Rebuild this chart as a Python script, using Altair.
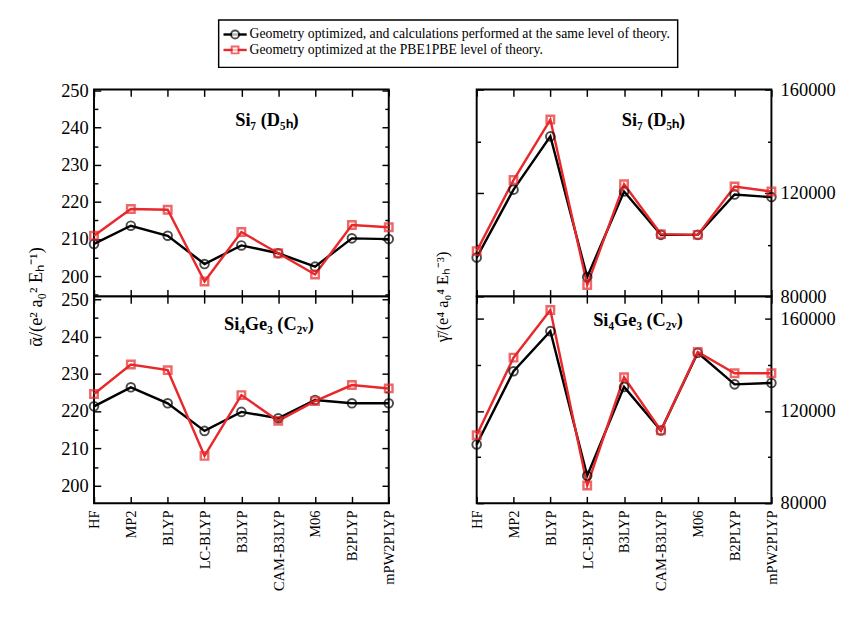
import altair as alt
import pandas as pd

methods = ["HF", "MP2", "BLYP", "LC-BLYP", "B3LYP", "CAM-B3LYP", "M06", "B2PLYP", "mPW2PLYP"]
series_names = [
    "Geometry optimized, and calculations performed at the same level of theory.",
    "Geometry optimized at the PBE1PBE level of theory.",
]
colors = ["#000000", "#e8282b"]
shapes = ["circle", "square"]

alpha_si7_same = [208.7, 213.6, 210.9, 203.3, 208.3, 206.2, 202.6, 210.2, 210.0]
alpha_si7_pbe = [210.9, 218.1, 217.9, 198.6, 211.9, 206.2, 200.5, 213.8, 213.2]
alpha_sige_same = [221.3, 226.4, 222.1, 214.7, 219.8, 218.1, 223.0, 222.1, 222.1]
alpha_sige_pbe = [224.6, 232.5, 231.0, 208.0, 224.3, 217.4, 222.7, 227.0, 226.1]
gamma_si7_same = [95000, 121300, 141900, 87500, 120600, 103800, 103800, 119400, 118400]
gamma_si7_pbe = [97500, 125000, 148400, 84400, 123400, 104100, 103800, 122500, 120600]
gamma_sige_same = [105500, 137300, 154700, 91900, 130500, 111600, 145300, 131600, 132200]
gamma_sige_pbe = [109500, 143200, 163900, 87700, 134700, 111600, 145700, 136400, 136400]

panel_titles = ["Si\u2087 (D\u2085\u2095)", "Si\u2084Ge\u2083 (C\u2082\u1d65)"]
alpha_title = "\u1fb1/(e\u00b2 a\u2080\u00b2 E\u2095\u207b\u00b9)"
gamma_title = "\u03b3\u0304/(e\u2074 a\u2080\u2074 E\u2095\u207b\u00b3)"

alpha_labels = [200, 210, 220, 230, 240, 250]
alpha_ticks = [195, 200, 205, 210, 215, 220, 225, 230, 235, 240, 245, 250]
gamma_labels = [80000, 120000, 160000]
gamma_ticks = [80000, 100000, 120000, 140000, 160000]

FONT = "Liberation Serif"
W, H = 305, 214


def make_df(same, pbe):
    rows = []
    for m, a, b in zip(methods, same, pbe):
        rows.append({"method": m, "series": series_names[0], "value": a})
        rows.append({"method": m, "series": series_names[1], "value": b})
    return pd.DataFrame(rows)


def legend_layers():
    box = alt.Chart(pd.DataFrame({"series": series_names[:1]})).mark_rect(
        fill="white", stroke="black", strokeWidth=1.5
    ).encode(x=alt.value(129), x2=alt.value(604), y=alt.value(-72), y2=alt.value(-23))
    out = [box]
    row_y = [-57, -41]
    for i, name in enumerate(series_names):
        d = pd.DataFrame({"series": [name]})
        c = alt.Chart(d)
        out.append(c.mark_rule(color=colors[i], strokeWidth=2.5).encode(
            x=alt.value(134), x2=alt.value(158), y=alt.value(row_y[i])))
        out.append(c.mark_point(shape=shapes[i], filled=True, fill="white", color=colors[i],
                                stroke=colors[i], strokeWidth=2,
                                size=70 if i == 0 else 50).encode(
            x=alt.value(146), y=alt.value(row_y[i])))
        out.append(c.mark_text(align="left", baseline="middle", font=FONT, fontSize=14.2,
                               color="black").encode(
            x=alt.value(161), y=alt.value(row_y[i]), text="series:N"))
    return out


def panel(same, pbe, ydom, label_vals, tick_vals, major_test, side, title_text,
          title_x, title_y, xlabels, ytitle=None, ytitle_x=None, ytitle_size=16,
          fmt=None, legend=False):
    df = make_df(same, pbe)
    xs = alt.Scale(type="point", padding=0, domain=methods)
    ys = alt.Scale(domain=ydom, zero=False, nice=False)
    cs = alt.Scale(domain=series_names, range=colors)
    base = alt.Chart(df)
    tsize = {"condition": {"test": major_test, "value": 7}, "value": 4}

    title_kw = {}
    if ytitle:
        title_kw = dict(title=ytitle, titleX=ytitle_x, titleY=H, titleAngle=270,
                        titleFont=FONT, titleFontSize=ytitle_size, titleFontWeight="normal",
                        titleColor="black", titleAlign="center", titleBaseline="middle")

    def tick_axis(orient, offset, values, size, extra=None):
        kw = dict(orient=orient, offset=offset, values=values, tickSize=size,
                  labels=False, domain=False, grid=False, tickColor="black",
                  tickWidth=1.5, title=None)
        if extra:
            kw.update(extra)
        return alt.Axis(**kw)

    lab_kw = dict(orient=side, values=label_vals, ticks=False, domain=False, grid=False,
                  labelFont=FONT, labelFontSize=19, labelColor="black",
                  labelPadding=6 if side == "left" else 9, title=None)
    if fmt:
        lab_kw["format"] = fmt
    if ytitle and side == "left":
        lab_kw.update(title_kw)

    if xlabels:
        xaxis = alt.Axis(orient="bottom", labels=True, ticks=False, domain=False,
                         grid=False, title=None, labelAngle=270, labelFont=FONT,
                         labelFontSize=15, labelColor="black", labelPadding=7)
    else:
        xaxis = None

    lines = base.mark_line(strokeWidth=2.5).encode(
        x=alt.X("method:N", sort=methods, scale=xs, axis=xaxis),
        y=alt.Y("value:Q", scale=ys, axis=alt.Axis(**lab_kw)),
        color=alt.Color("series:N", scale=cs, legend=None),
    )
    circles = base.transform_filter(alt.datum.series == series_names[0]).mark_point(
        shape="circle", filled=False, size=80, strokeWidth=2, color=colors[0]
    ).encode(
        x=alt.X("method:N", sort=methods, scale=xs, axis=tick_axis("top", -H, methods, 7)),
        y=alt.Y("value:Q", scale=ys,
                axis=tick_axis("right", -W, tick_vals, tsize,
                               title_kw if (ytitle and side == "right") else None)),
    )
    squares = base.transform_filter(alt.datum.series == series_names[1]).mark_point(
        shape="square", filled=False, size=60, strokeWidth=2.5, color=colors[1]
    ).encode(
        x=alt.X("method:N", sort=methods, scale=xs, axis=tick_axis("bottom", -H, methods, 7)),
        y=alt.Y("value:Q", scale=ys, axis=tick_axis("left", -W, tick_vals, tsize)),
    )
    label = alt.Chart(pd.DataFrame({"t": [title_text]})).mark_text(
        font=FONT, fontSize=19, fontWeight="bold", color="black"
    ).encode(x=alt.value(title_x), y=alt.value(title_y), text="t:N")

    layers = [lines, circles, squares, label]
    if legend:
        layers += legend_layers()
    return alt.layer(*layers).resolve_axis(x="independent", y="independent").properties(
        width=W, height=H)


a_top = panel(alpha_si7_same, alpha_si7_pbe, [194.6, 250.2], alpha_labels, alpha_ticks,
              "datum.value % 10 === 0", "left", panel_titles[0], 179, 32, False,
              ytitle=alpha_title, ytitle_x=-60, ytitle_size=19, legend=True)
a_bot = panel(alpha_sige_same, alpha_sige_pbe, [195.3, 250.8], alpha_labels, alpha_ticks,
              "datum.value % 10 === 0", "left", panel_titles[1], 181, 29, True)
g_top = panel(gamma_si7_same, gamma_si7_pbe, [80000, 160000], gamma_labels, gamma_ticks,
              "datum.value % 40000 === 0", "right", panel_titles[0], 183, 32, False,
              ytitle=gamma_title, ytitle_x=-35, ytitle_size=17, fmt="d")
g_bot = panel(gamma_sige_same, gamma_sige_pbe, [80000, 169800], gamma_labels, gamma_ticks,
              "datum.value % 40000 === 0", "right", panel_titles[1], 167, 25, True, fmt="d")

chart = alt.concat(
    a_top, g_top, a_bot, g_bot, columns=2,
    spacing={"row": 0, "column": 91}, bounds="flush"
).configure_view(
    stroke="black", strokeWidth=2
).properties(background="white", padding={"left": 19, "top": 0, "right": 5, "bottom": 5})

chart.save("out.html", embed_options={"renderer": "svg", "actions": False})
